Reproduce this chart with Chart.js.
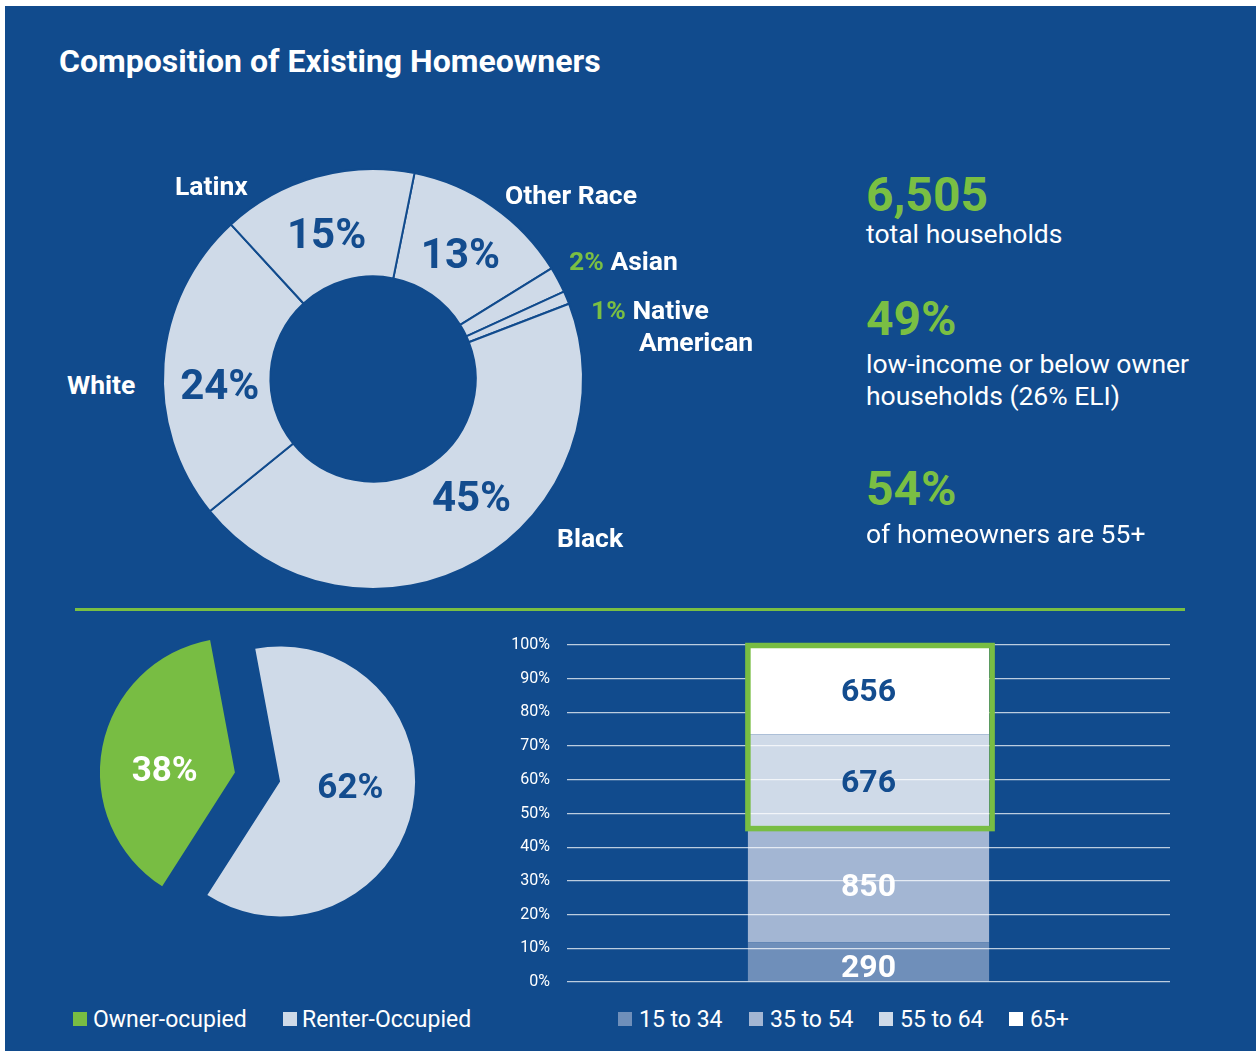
<!DOCTYPE html>
<html>
<head>
<meta charset="utf-8">
<title>Composition of Existing Homeowners</title>
<script src="https://cdn.jsdelivr.net/npm/chart.js@4.4.1/dist/chart.umd.min.js"></script>
<style>
  html, body { margin: 0; padding: 0; background: #fff; }
  body { width: 1256px; height: 1051px; position: relative; overflow: hidden; font-family: Roboto, 'Noto Sans', sans-serif; }
  #panel { position: absolute; left: 5px; top: 6px; right: 0; bottom: 0; background: #114b8d; }
  .t { position: absolute; white-space: nowrap; line-height: 1; color: #fff; }
  .b { font-weight: 700; }
  .g { color: #7abf43; }
  .lbl { font-size: 26.5px; font-weight: 700; }
  .big { font-size: 48px; font-weight: 700; color: #7abf43; }
  .sub { font-size: 26.5px; }
  .sw { position: absolute; width: 14px; height: 14px; }
  .leg { position: absolute; white-space: nowrap; line-height: 1; color: #fff; font-size: 23px; }
  canvas { position: absolute; }
  #rule { position: absolute; left: 75px; top: 608px; width: 1110px; height: 3px; background: #7abf43; }
</style>
</head>
<body>
<div id="panel"></div>

<div class="t b" style="left:59px; top:45px; font-size:32px;">Composition of Existing Homeowners</div>

<canvas id="raceChart" width="460" height="440" style="left:143px; top:159px;"></canvas>

<div class="t lbl" style="left:175px; top:173px;">Latinx</div>
<div class="t lbl" style="left:505px; top:182px;">Other Race</div>
<div class="t lbl" style="left:569px; top:248px;"><span class="g">2%</span> Asian</div>
<div class="t lbl" style="left:591px; top:297px;"><span class="g">1%</span> Native</div>
<div class="t lbl" style="left:639px; top:329px;">American</div>
<div class="t lbl" style="left:67px; top:372px;">White</div>
<div class="t lbl" style="left:557px; top:525px;">Black</div>

<div class="t big" style="left:866px; top:171px;">6,505</div>
<div class="t sub" style="left:866px; top:221px;">total households</div>
<div class="t big" style="left:866px; top:295px;">49%</div>
<div class="t sub" style="left:866px; top:351px;">low-income or below owner</div>
<div class="t sub" style="left:866px; top:383px;">households (26% ELI)</div>
<div class="t big" style="left:866px; top:465px;">54%</div>
<div class="t sub" style="left:866px; top:521px;">of homeowners are 55+</div>

<div id="rule"></div>

<canvas id="tenureChart" width="361" height="360" style="left:77px; top:597px;"></canvas>
<canvas id="ageChart" width="700" height="380" style="left:490px; top:620px;"></canvas>

<div id="tenureLegend"></div>
<div id="ageLegend"></div>

<script>
// race / ethnicity of owner households (percent)
const raceLabels = ['Other Race', 'Asian', 'Native American', 'Black', 'White', 'Latinx'];
const raceShares = [13, 2, 1, 45, 24, 15];

// tenure split (percent)
const tenureLabels = ['Owner-ocupied', 'Renter-Occupied'];
const tenureShares = [38, 62];

// householder age among owners (households)
const ageGroups = ['15 to 34', '35 to 54', '55 to 64', '65+'];
const ageCounts = [290, 850, 676, 656];
const ageColors = ['#6f8fba', '#a3b6d3', '#cfdae8', '#ffffff'];
const ageLabelColors = ['#ffffff', '#ffffff', '#134c8e', '#134c8e'];

const BG = '#114b8d';
const LIGHT = '#cfdae8';
const GREEN = '#78bd43';
const NAVY = '#134c8e';
const DEG = Math.PI / 180;

// centre bold text on a point by its cap height
function capText(ctx, text, x, y, size) {
  ctx.font = '700 ' + size + 'px Roboto';
  ctx.textAlign = 'center';
  ctx.textBaseline = 'alphabetic';
  ctx.fillText(text, x, y + size * 0.355);
}

// percent text in the big slices of the doughnut, turned a little off the slice middle
const raceLabelTurn = [0, 0, 0, -10, -6, -2];
const raceValueLabels = {
  id: 'raceValueLabels',
  afterDatasetsDraw(chart) {
    const ctx = chart.ctx;
    const meta = chart.getDatasetMeta(0);
    ctx.save();
    ctx.fillStyle = NAVY;
    meta.data.forEach((arc, i) => {
      if (raceShares[i] < 10) return;
      const a = (arc.startAngle + arc.endAngle) / 2 + raceLabelTurn[i] * DEG;
      const r = (arc.innerRadius + arc.outerRadius) / 2 - 3;
      capText(ctx, raceShares[i] + '%', arc.x + Math.cos(a) * r, arc.y + Math.sin(a) * r, 42);
    });
    ctx.restore();
  }
};

new Chart(document.getElementById('raceChart'), {
  type: 'doughnut',
  data: {
    labels: raceLabels,
    datasets: [{
      data: raceShares,
      backgroundColor: LIGHT,
      borderColor: BG,
      borderWidth: 2
    }]
  },
  options: {
    responsive: false,
    animation: false,
    radius: 210,
    cutout: 107,
    rotation: 11.4,
    plugins: { legend: { display: false }, tooltip: { enabled: false } }
  },
  plugins: [raceValueLabels]
});

// pulls every slice straight out from the centre by a fixed distance
const explode = {
  id: 'explode',
  beforeDatasetDraw(chart, args, opts) {
    const ctx = chart.ctx;
    args.meta.data.forEach(arc => {
      const a = (arc.startAngle + arc.endAngle) / 2;
      ctx.save();
      ctx.translate(Math.cos(a) * opts.distance, Math.sin(a) * opts.distance);
      arc.draw(ctx);
      ctx.restore();
    });
    return false;
  },
  afterDatasetsDraw(chart, args, opts) {
    const ctx = chart.ctx;
    ctx.save();
    chart.getDatasetMeta(0).data.forEach((arc, i) => {
      const a = (arc.startAngle + arc.endAngle) / 2 - 6 * DEG;
      const d = opts.distance + arc.outerRadius * 0.52;
      ctx.fillStyle = i === 0 ? '#ffffff' : NAVY;
      capText(ctx, tenureShares[i] + '%', arc.x + Math.cos(a) * d, arc.y + Math.sin(a) * d, 35);
    });
    ctx.restore();
  }
};

new Chart(document.getElementById('tenureChart'), {
  type: 'pie',
  data: {
    labels: tenureLabels,
    datasets: [{
      data: tenureShares,
      backgroundColor: [GREEN, LIGHT],
      borderWidth: 0
    }]
  },
  options: {
    responsive: false,
    animation: false,
    radius: 135,
    rotation: 212.6,
    plugins: {
      legend: { display: false },
      tooltip: { enabled: false },
      explode: { distance: 23 }
    }
  },
  plugins: [explode]
});

// stacked 100% column of householder age
const ageTotal = ageCounts.reduce((a, b) => a + b, 0);

const ageOverlay = {
  id: 'ageOverlay',
  afterDraw(chart) {
    const ctx = chart.ctx;
    ctx.save();
    // green frame round the 55+ part of the column
    const lo = chart.getDatasetMeta(2).data[0];
    const hi = chart.getDatasetMeta(3).data[0];
    const left = lo.x - lo.width / 2;
    const right = lo.x + lo.width / 2;
    ctx.strokeStyle = GREEN;
    ctx.lineWidth = 5.5;
    ctx.strokeRect(left, hi.y + 0.5, right - left + 3, lo.base - hi.y + 1.5);

    ageCounts.forEach((n, i) => {
      const p = chart.getDatasetMeta(i).data[0].getCenterPoint();
      ctx.fillStyle = ageLabelColors[i];
      capText(ctx, n.toString(), p.x, p.y + (i === 0 ? 4 : 0), 32);
    });
    ctx.restore();
  }
};

new Chart(document.getElementById('ageChart'), {
  type: 'bar',
  data: {
    labels: ['Owners'],
    datasets: ageGroups.map((g, i) => ({
      label: g,
      data: [ageCounts[i] / ageTotal * 100],
      backgroundColor: ageColors[i],
      borderWidth: 0,
      categoryPercentage: 0.8,
      barPercentage: 0.5
    }))
  },
  options: {
    responsive: false,
    animation: false,
    layout: { padding: { top: 25, bottom: 18, right: 20, left: 0 } },
    plugins: { legend: { display: false }, tooltip: { enabled: false } },
    scales: {
      x: { stacked: true, display: false },
      y: {
        stacked: true,
        min: 0,
        max: 100,
        afterFit(scale) { scale.width = 77; },
        border: { display: false },
        grid: {
          color: 'rgba(255,255,255,0.72)',
          lineWidth: 1.3,
          drawTicks: true,
          tickLength: 17,
          tickColor: 'rgba(0,0,0,0)',
          z: 1
        },
        ticks: {
          stepSize: 10,
          padding: 0,
          color: '#ffffff',
          font: { family: 'Roboto', size: 16 },
          callback: v => v + '%'
        }
      }
    }
  },
  plugins: [ageOverlay]
});

// legends under the two lower charts
function legend(containerId, names, colors, squareX, textX) {
  const box = document.getElementById(containerId);
  names.forEach((name, i) => {
    const sw = document.createElement('div');
    sw.className = 'sw';
    sw.style.left = squareX[i] + 'px';
    sw.style.top = '1012px';
    sw.style.background = colors[i];
    box.appendChild(sw);
    const tx = document.createElement('div');
    tx.className = 'leg';
    tx.style.left = textX[i] + 'px';
    tx.style.top = '1008px';
    tx.textContent = name;
    box.appendChild(tx);
  });
}
legend('tenureLegend', tenureLabels, [GREEN, LIGHT], [73, 283], [93, 302]);
legend('ageLegend', ageGroups, ageColors, [618, 749, 879, 1009], [639, 770, 900, 1030]);
</script>
</body>
</html>
